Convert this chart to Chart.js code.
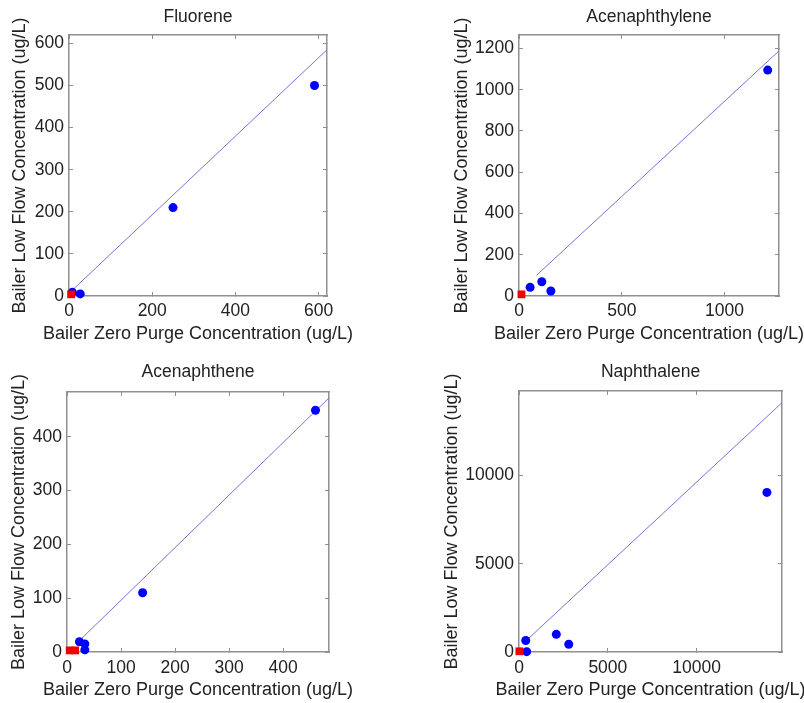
<!DOCTYPE html>
<html>
<head>
<meta charset="utf-8">
<script src="https://cdn.jsdelivr.net/npm/chart.js@4.4.0/dist/chart.umd.min.js"></script>
<style>
  body { margin: 0; background: #fff; }
  #wrap { position: relative; width: 804px; height: 703px; overflow: hidden; }
  canvas { position: absolute; }
</style>
</head>
<body>
<div id="wrap">
  <canvas id="c1" width="400" height="350" style="left:0px;top:0px"></canvas>
  <canvas id="c2" width="404" height="350" style="left:400px;top:0px"></canvas>
  <canvas id="c3" width="400" height="353" style="left:0px;top:350px"></canvas>
  <canvas id="c4" width="404" height="353" style="left:400px;top:350px"></canvas>
</div>
<script>
"use strict";

// panel titles and axis titles
const titles = ["Fluorene", "Acenaphthylene", "Acenaphthene", "Naphthalene"];
const xTitle = "Bailer Zero Purge Concentration (ug/L)";
const yTitle = "Bailer Low Flow Concentration (ug/L)";

// Fluorene
const fluoreneZero = [590, 250, 27, 8];
const fluoreneLow = [500, 210, 5, 9];
const fluoreneNdZero = [5];
const fluoreneNdLow = [4];
const fluoreneFitX = [6, 620];
const fluoreneFitY = [12, 585];

// Acenaphthylene
const acenaphthyleneZero = [1210, 54, 111, 155];
const acenaphthyleneLow = [1095, 42, 69, 24];
const acenaphthyleneNdZero = [12];
const acenaphthyleneNdLow = [8];
const acenaphthyleneFitX = [85, 1265];
const acenaphthyleneFitY = [100, 1188];

// Acenaphthene
const acenaphtheneZero = [460, 140, 23, 33, 33];
const acenaphtheneLow = [449, 110, 19, 15, 4];
const acenaphtheneNdZero = [5, 15];
const acenaphtheneNdLow = [3, 3];
const acenaphtheneFitX = [27, 485];
const acenaphtheneFitY = [25, 472];

// Naphthalene
const naphthaleneZero = [13950, 2100, 2800, 380, 430];
const naphthaleneLow = [9050, 1000, 440, 650, 20];
const naphthaleneNdZero = [20];
const naphthaleneNdLow = [40];
const naphthaleneFitX = [340, 14800];
const naphthaleneFitY = [580, 14140];

// axis ranges and tick values
const xMax = [620, 1265, 485, 14800];
const yMax = [620, 1265, 483, 14800];
const xTicks = [
    [0, 200, 400, 600],
    [0, 500, 1000],
    [0, 100, 200, 300, 400],
    [0, 5000, 10000]
];
const yTicks = [
    [0, 100, 200, 300, 400, 500, 600],
    [0, 200, 400, 600, 800, 1000, 1200],
    [0, 100, 200, 300, 400],
    [0, 5000, 10000]
];

const FONT = "'Liberation Sans', Arial, Helvetica, sans-serif";
const TEXT = "#222";
const AXIS = "#909090";

// sizes of the axis boxes around each plot area
const layouts = [
    { left: 69, right: 73, top: 35, bottom: 54, titlePad: 6.5, xTickPad: 8.5, xTitlePad: 5.2, yTitlePad: 9.2 },
    { left: 119, right: 25, top: 35, bottom: 54, titlePad: 6.5, xTickPad: 8.5, xTitlePad: 5.2, yTitlePad: 51.2 },
    { left: 67, right: 71, top: 42, bottom: 51, titlePad: 11.5, xTickPad: 9.5, xTitlePad: 1.7, yTitlePad: 8.2 },
    { left: 119, right: 22, top: 41, bottom: 51, titlePad: 11.5, xTickPad: 9.5, xTitlePad: 1.7, yTitlePad: 41.2 }
];

function pairs(xs, ys) {
    return xs.map(function(x, i) { return { x: x, y: ys[i] }; });
}

function setTicks(values) {
    return function(scale) {
        scale.ticks = values.map(function(v) { return { value: v }; });
    };
}

function sideAxis(position, max, values, size) {
    return {
        type: "linear",
        position: position,
        min: 0,
        max: max,
        afterBuildTicks: setTicks(values),
        ticks: { display: false },
        grid: { drawOnChartArea: false, tickLength: -4, color: AXIS },
        border: { color: AXIS, width: 1.5 },
        afterFit: function(s) {
            if (position === "top") s.height = size; else s.width = size;
        }
    };
}

// x axis title is drawn here so it is not squeezed to the plot width
const xLabelPlugin = {
    id: "xLabel",
    afterDraw: function(chart, args, opts) {
        const ctx = chart.ctx;
        const area = chart.chartArea;
        ctx.save();
        ctx.font = "18px " + FONT;
        ctx.fillStyle = TEXT;
        ctx.textAlign = "center";
        ctx.textBaseline = "middle";
        ctx.fillText(xTitle, (area.left + area.right) / 2, chart.height - opts.pad - 10.8);
        ctx.restore();
    }
};

function makeChart(id, i, blue, red, fit) {
    const lay = layouts[i];
    new Chart(document.getElementById(id), {
        type: "scatter",
        data: {
            datasets: [{
                data: red,
                pointStyle: "rect",
                pointRadius: 5.5,
                backgroundColor: "#ee0000",
                borderWidth: 0,
                clip: false
            }, {
                data: blue,
                pointRadius: 4.5,
                backgroundColor: "#0000ff",
                borderWidth: 0,
                clip: false
            }, {
                data: fit,
                showLine: true,
                borderColor: "#7474d6",
                borderWidth: 1,
                pointRadius: 0,
                fill: false
            }]
        },
        plugins: [xLabelPlugin],
        options: {
            responsive: false,
            animation: false,
            layout: { padding: 0 },
            plugins: {
                legend: { display: false },
                tooltip: { enabled: false },
                xLabel: { pad: lay.xTitlePad }
            },
            scales: {
                x: {
                    type: "linear",
                    position: "bottom",
                    min: 0,
                    max: xMax[i],
                    afterBuildTicks: setTicks(xTicks[i]),
                    ticks: {
                        maxRotation: 0,
                        autoSkip: false,
                        padding: lay.xTickPad,
                        color: TEXT,
                        font: { family: FONT, size: 17.5 },
                        callback: function(v) { return String(v); }
                    },
                    grid: { drawOnChartArea: false, tickLength: -4, color: AXIS },
                    border: { color: AXIS, width: 1.5 },
                    afterFit: function(s) { s.height = lay.bottom; }
                },
                y: {
                    type: "linear",
                    position: "left",
                    min: 0,
                    max: yMax[i],
                    afterBuildTicks: setTicks(yTicks[i]),
                    ticks: {
                        autoSkip: false,
                        padding: 9,
                        color: TEXT,
                        font: { family: FONT, size: 17.5 },
                        callback: function(v) { return String(v); }
                    },
                    grid: { drawOnChartArea: false, tickLength: -4, color: AXIS },
                    border: { color: AXIS, width: 1.5 },
                    title: {
                        display: true,
                        text: yTitle,
                        color: TEXT,
                        font: { family: FONT, size: 18 },
                        padding: { top: lay.yTitlePad, bottom: 0 }
                    },
                    afterFit: function(s) { s.width = lay.left; }
                },
                x2: Object.assign(sideAxis("top", xMax[i], xTicks[i], lay.top), {
                    title: {
                        display: true,
                        text: titles[i],
                        color: TEXT,
                        font: { family: FONT, size: 17.5 },
                        padding: { top: lay.titlePad, bottom: 0 }
                    }
                }),
                y2: sideAxis("right", yMax[i], yTicks[i], lay.right)
            }
        }
    });
}

makeChart("c1", 0, pairs(fluoreneZero, fluoreneLow), pairs(fluoreneNdZero, fluoreneNdLow),
    pairs(fluoreneFitX, fluoreneFitY));
makeChart("c2", 1, pairs(acenaphthyleneZero, acenaphthyleneLow),
    pairs(acenaphthyleneNdZero, acenaphthyleneNdLow), pairs(acenaphthyleneFitX, acenaphthyleneFitY));
makeChart("c3", 2, pairs(acenaphtheneZero, acenaphtheneLow),
    pairs(acenaphtheneNdZero, acenaphtheneNdLow), pairs(acenaphtheneFitX, acenaphtheneFitY));
makeChart("c4", 3, pairs(naphthaleneZero, naphthaleneLow),
    pairs(naphthaleneNdZero, naphthaleneNdLow), pairs(naphthaleneFitX, naphthaleneFitY));
</script>
</body>
</html>
